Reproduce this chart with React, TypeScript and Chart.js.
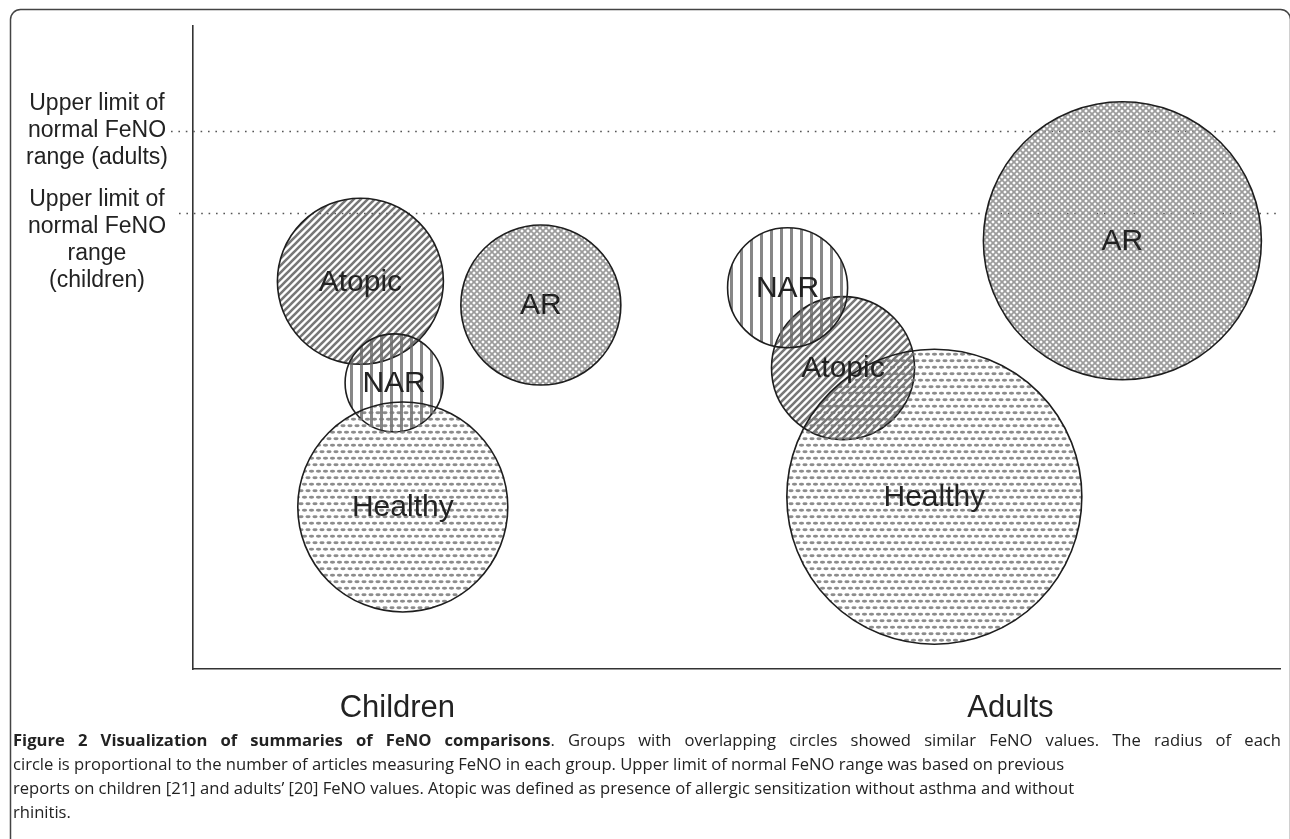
import React, { useEffect, useRef } from "react";
import { Chart, registerables } from "chart.js";

Chart.register(...registerables);

// ---- data ----
const groupNames = ["Atopic", "NAR", "Healthy", "AR"];
const childrenX = [15.4, 18.5, 19.3, 32.0];
const childrenY = [60.3, 44.5, 25.2, 56.6];
const childrenR = [83, 49, 105, 80];
const adultsX = [59.8, 54.7, 68.2, 85.5];
const adultsY = [46.8, 59.3, 26.8, 66.6];
const adultsR = [71.5, 60, 147.5, 139];
const ageGroups = ["Children", "Adults"];
const ageGroupX = [18.8, 75.2];
const limitY = [83.7, 70.9];
const limitLabels = [
  ["Upper limit of", "normal FeNO", "range (adults)"],
  ["Upper limit of", "normal FeNO", "range", "(children)"],
];
const captionBold = "Figure 2 Visualization of summaries of FeNO comparisons";
const captionLine1Rest = ". Groups with overlapping circles showed similar FeNO values. The radius of each";
const captionLines = [
  "circle is proportional to the number of articles measuring FeNO in each group. Upper limit of normal FeNO range was based on previous",
  "reports on children [21] and adults\u2019 [20] FeNO values. Atopic was defined as presence of allergic sensitization without asthma and without",
  "rhinitis.",
];

const SANS = '"Liberation Sans", Arial, sans-serif';
const CAP = '"Open Sans", sans-serif';

function makePattern(kind: string): CanvasPattern | string {
  const c = document.createElement("canvas");
  const g = c.getContext("2d");
  if (!g) return "#bbb";
  if (kind === "Atopic") {
    c.width = 7; c.height = 7;
    g.strokeStyle = "rgba(95,95,95,0.85)";
    g.lineWidth = 2.6;
    g.beginPath();
    g.moveTo(-1, 8); g.lineTo(8, -1);
    g.moveTo(-1, 1); g.lineTo(1, -1);
    g.moveTo(6, 8); g.lineTo(8, 6);
    g.stroke();
  } else if (kind === "NAR") {
    c.width = 10; c.height = 2;
    g.fillStyle = "rgba(105,105,105,0.8)";
    g.fillRect(0, 0, 3, 2);
  } else if (kind === "AR") {
    c.width = 6; c.height = 6;
    g.strokeStyle = "rgba(150,150,150,0.95)";
    g.lineWidth = 1.8;
    g.beginPath();
    g.moveTo(-1, -1); g.lineTo(7, 7);
    g.moveTo(-1, 7); g.lineTo(7, -1);
    g.stroke();
  } else {
    c.width = 7; c.height = 13;
    g.fillStyle = "rgba(120,120,120,0.85)";
    const ov = (x: number, y: number) => {
      g.beginPath();
      g.ellipse(x, y, 2.6, 1.4, 0, 0, Math.PI * 2);
      g.fill();
    };
    ov(3.5, 3.25);
    ov(0, 9.75);
    ov(7, 9.75);
  }
  const p = g.createPattern(c, "repeat");
  return p || "#bbb";
}

const framePlugin = {
  id: "frame",
  beforeDraw(chart: any) {
    const ctx = chart.ctx;
    ctx.save();
    ctx.fillStyle = "#fff";
    ctx.fillRect(0, 0, chart.width, chart.height);
    ctx.strokeStyle = "#444";
    ctx.lineWidth = 1.5;
    ctx.beginPath();
    ctx.roundRect(10.5, 9.5, 1280, 900, 10);
    ctx.stroke();
    ctx.restore();
  },
};

const limitPlugin = {
  id: "limits",
  beforeDatasetsDraw(chart: any) {
    const ctx = chart.ctx;
    const y = chart.scales.y;
    const area = chart.chartArea;
    const starts = [171, 179];
    ctx.save();
    ctx.strokeStyle = "#555";
    ctx.lineWidth = 1.3;
    ctx.setLineDash([1.6, 5.8]);
    limitY.forEach((v, i) => {
      const py = Math.round(y.getPixelForValue(v)) + 0.5;
      ctx.beginPath();
      ctx.moveTo(starts[i], py);
      ctx.lineTo(area.right, py);
      ctx.stroke();
    });
    ctx.restore();
  },
};

const textPlugin = {
  id: "texts",
  afterDatasetsDraw(chart: any) {
    const ctx = chart.ctx;
    ctx.save();
    // circle labels
    ctx.fillStyle = "#222";
    ctx.font = `30px ${SANS}`;
    ctx.textAlign = "center";
    ctx.textBaseline = "middle";
    chart.data.datasets.forEach((ds: any, di: number) => {
      const meta = chart.getDatasetMeta(di);
      meta.data.forEach((el: any, i: number) => {
        ctx.fillText(groupNames[i], el.x, el.y + 1);
      });
    });
    // y labels
    const ys = chart.scales.y;
    ctx.font = `23px ${SANS}`;
    limitLabels.forEach((lines, i) => {
      const py = ys.getPixelForValue(limitY[i]);
      const lh = 27;
      const start = i === 0 ? py - lh : py - 13;
      lines.forEach((ln, k) => {
        ctx.fillText(ln, 97, start + k * lh);
      });
    });
    // caption
    ctx.textAlign = "left";
    ctx.textBaseline = "alphabetic";
    ctx.fillStyle = "#222";
    const capX = 13;
    const capRight = 1281;
    const bases = [746, 770, 794, 818];
    const bFont = `bold 16.6px ${CAP}`;
    const rFont = `16.6px ${CAP}`;
    type Piece = { t: string; b: boolean };
    const words: Piece[][] = [];
    captionBold.split(" ").forEach((w) => words.push([{ t: w, b: true }]));
    const rest = captionLine1Rest.split(" ");
    words[words.length - 1].push({ t: rest[0], b: false });
    rest.slice(1).forEach((w) => words.push([{ t: w, b: false }]));
    const wWidth = (w: Piece[]) =>
      w.reduce((s, p) => {
        ctx.font = p.b ? bFont : rFont;
        return s + ctx.measureText(p.t).width;
      }, 0);
    const total = words.reduce((s, w) => s + wWidth(w), 0);
    const gap = (capRight - capX - total) / (words.length - 1);
    let cx = capX;
    words.forEach((w) => {
      w.forEach((p) => {
        ctx.font = p.b ? bFont : rFont;
        ctx.fillText(p.t, cx, bases[0]);
        cx += ctx.measureText(p.t).width;
      });
      cx += gap;
    });
    ctx.font = rFont;
    captionLines.forEach((ln, i) => ctx.fillText(ln, capX, bases[i + 1]));
    ctx.restore();
  },
};

export default function App() {
  const ref = useRef<HTMLCanvasElement | null>(null);
  useEffect(() => {
    if (!ref.current) return;
    const pats = groupNames.map((n) => makePattern(n));
    const chart = new Chart(ref.current, {
      type: "bubble",
      data: {
        datasets: [
          {
            label: "Children",
            data: childrenX.map((x, i) => ({ x, y: childrenY[i], r: childrenR[i] })),
            backgroundColor: pats as any,
            borderColor: "#1e1e1e",
            borderWidth: 1.6,
          },
          {
            label: "Adults",
            data: adultsX.map((x, i) => ({ x, y: adultsY[i], r: adultsR[i] })),
            backgroundColor: pats as any,
            borderColor: "#1e1e1e",
            borderWidth: 1.6,
          },
        ],
      },
      options: {
        responsive: false,
        animation: false,
        devicePixelRatio: 1,
        events: [],
        clip: false as any,
        layout: { autoPadding: false, padding: { left: 193, top: 26, right: 10, bottom: 100 } },
        plugins: { legend: { display: false }, tooltip: { enabled: false } },
        scales: {
          x: {
            type: "linear",
            min: 0,
            max: 100,
            grid: { display: true, drawOnChartArea: false, drawTicks: false },
            border: { display: true, color: "#333", width: 1.6 },
            afterBuildTicks: (s: any) => {
              s.ticks = ageGroupX.map((v) => ({ value: v }));
            },
            afterFit: (s: any) => {
              s.height = 70;
            },
            ticks: {
              padding: 21,
              color: "#222",
              font: { family: SANS, size: 31 },
              maxRotation: 0,
              autoSkip: false,
              callback: (_v: any, i: number) => ageGroups[i],
            },
          },
          y: {
            type: "linear",
            min: 0,
            max: 100,
            grid: { display: true, drawOnChartArea: false, drawTicks: false },
            border: { display: true, color: "#333", width: 1.6 },
            ticks: { display: false },
            afterFit: (s: any) => {
              s.width = 0;
            },
          },
        },
      },
      plugins: [framePlugin, limitPlugin, textPlugin],
    });
    return () => chart.destroy();
  }, []);
  return (
    <div style={{ position: "absolute", left: 0, top: 0, width: 1290, height: 839 }}>
      <canvas ref={ref} width={1290} height={839} style={{ display: "block" }} />
    </div>
  );
}
